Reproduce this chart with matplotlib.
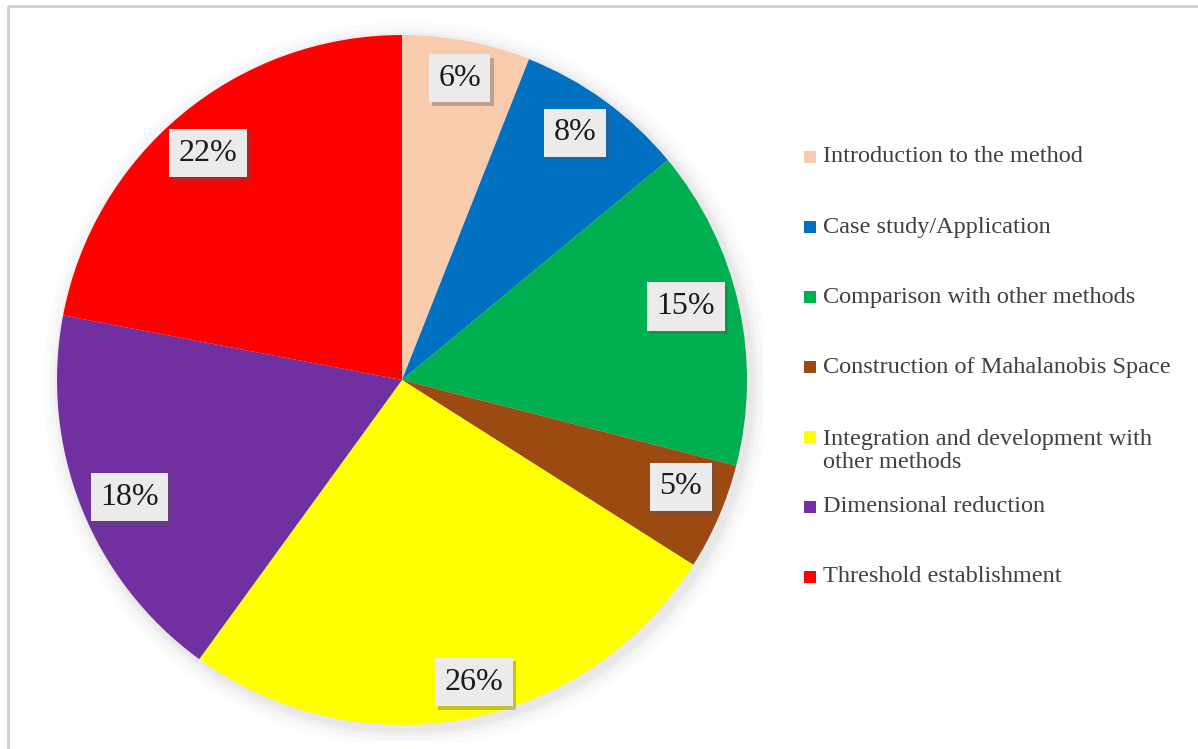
import numpy as np
import matplotlib
matplotlib.use("Agg")
import matplotlib.pyplot as plt
import matplotlib.patches as mpatches
import matplotlib.patheffects as pe

categories = ["Introduction to the method", "Case study/Application",
              "Comparison with other methods", "Construction of Mahalanobis Space",
              "Integration and development with\nother methods", "Dimensional reduction",
              "Threshold establishment"]
values = [6, 8, 15, 5, 26, 18, 22]
colors = ["#F8CBAD", "#0070C0", "#00B050", "#9C4A12", "#FFFF00", "#7030A0", "#FF0000"]
legend_y_px = [157, 227, 297, 367, 451, 507, 577]
# label placement tweaks (radial distance, angle offset in degrees)
label_dist = [0.89, 0.875, 0.85, 0.865, 0.90, 0.86, 0.865]
label_dang = [0.0, 1.0, 1.9, 2.4, 2.6, 1.7, 0.9]

W, H = 1198, 749
fig = plt.figure(figsize=(W / 100, H / 100), dpi=100)
fig.patch.set_facecolor("white")

# outer frame
frame = mpatches.Rectangle((8 / W, 1 - 6 / H), 1.2, -1.2, transform=fig.transFigure,
                           fill=False, edgecolor="#cfcfcf", linewidth=2)
fig.add_artist(frame)

cx, cy, r = 402, 380, 345
L = 1.05
ax = fig.add_axes([(cx - r * L) / W, (H - cy - r * L) / H, 2 * L * r / W, 2 * L * r / H])

# soft shadow
for dr, a in [(0.05, 0.03), (0.035, 0.04), (0.02, 0.05), (0.01, 0.06)]:
    ax.add_patch(mpatches.Circle((0.012, -0.012), 1 + dr, facecolor="#808080",
                                 alpha=a, edgecolor="none", zorder=0))

wedges, texts = ax.pie(values, colors=colors, startangle=90, counterclock=False,
                       radius=1, labels=[f"{v}%" for v in values], labeldistance=0.875,
                       wedgeprops=dict(linewidth=0, edgecolor="none"),
                       textprops=dict(fontsize=23, family="Liberation Serif",
                                      color="#1a1a1a", ha="center", va="center"))
ax.set_xlim(-L, L)
ax.set_ylim(-L, L)
ax.set_aspect("equal")
ax.axis("off")

for w, t, d, da in zip(wedges, texts, label_dist, label_dang):
    ang = np.deg2rad((w.theta1 + w.theta2) / 2 + da)
    t.set_position((d * np.cos(ang), d * np.sin(ang)))
    t.set_ha("center")
    t.set_va("center")
    t.set_bbox(dict(boxstyle="square,pad=0.3", facecolor="#ebebeb", edgecolor="none"))
    t.get_bbox_patch().set_path_effects([
        pe.SimplePatchShadow(offset=(2.5, -2.5), shadow_rgbFace="#555555", alpha=0.35),
        pe.Normal()])

# legend (manual)
sq = 12
for lab, col, ypx in zip(categories, colors, legend_y_px):
    fy = 1 - ypx / H
    nlines = lab.count("\n") + 1
    fig.add_artist(mpatches.Rectangle((804 / W, fy - sq / 2 / H + (nlines - 1) * 14 / H),
                                      sq / W, sq / H,
                                      transform=fig.transFigure, facecolor=col,
                                      edgecolor="none"))
    fig.text(823 / W, fy, lab, fontsize=17.5, family="Liberation Serif",
             color="#404040", ha="left", va="center", linespacing=1.15)

fig.savefig("out.png", dpi=100, facecolor="white")
